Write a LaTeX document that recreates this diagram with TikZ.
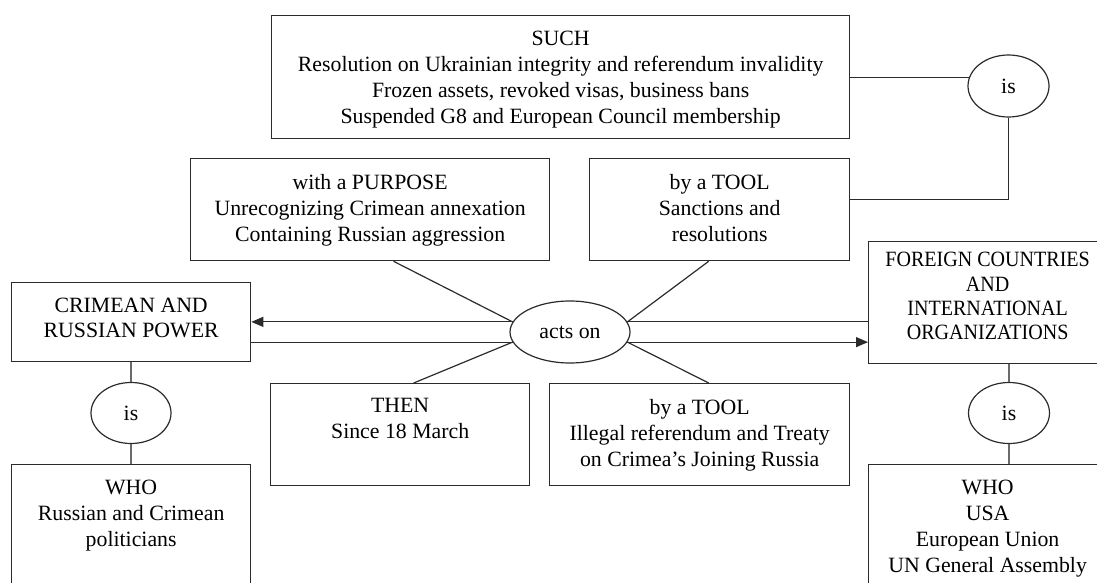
\documentclass[tikz,border=0pt]{standalone}
\usepackage{fontspec}
\setmainfont{Liberation Serif}
\newfontfamily\narrowserif[FakeStretch=0.92]{Liberation Serif}
\usepackage{tikz}
\usetikzlibrary{shapes.geometric, arrows.meta, positioning, calc}
\usepackage{xcolor}
\definecolor{frame}{HTML}{2B2B2B}
\definecolor{wire}{HTML}{6A6A6A}

\tikzset{
  box/.style={draw=frame, line width=0.65pt, rectangle, anchor=north west, inner sep=0pt},
  boxtext/.style={inner sep=0pt, align=center, font=\fontsize{10.9pt}{13pt}\selectfont},
  tighttext/.style={boxtext, font=\fontsize{10.9pt}{12.2pt}\selectfont},
  oval/.style={draw=frame, line width=0.6pt, ellipse, inner sep=0pt, font=\fontsize{10.9pt}{13pt}\selectfont},
  link/.style={draw=frame, line width=0.6pt},
  islink/.style={draw=wire, line width=0.9pt},
  arr/.style={link, -{Triangle[length=6pt, width=5pt]}}
}

\begin{document}
\begin{tikzpicture}[x=0.5pt, y=-0.5pt]
\useasboundingbox (0,0) rectangle (1097,583);

\node[box, minimum width=289pt, minimum height=61.5pt] (such) at (271,15) {};
\node[boxtext, below=7.9pt of such.north] (suchtxt) {SUCH\\Resolution on Ukrainian integrity and referendum invalidity\\Frozen assets, revoked visas, business bans\\Suspended G8 and European Council membership};

\node[box, minimum width=179.5pt, minimum height=51pt] (purpose) at (190,158) {};
\node[boxtext, below=8.2pt of purpose.north] (purposetxt) {with a PURPOSE\\Unrecognizing Crimean annexation\\Containing Russian aggression};

\node[box, minimum width=130pt, minimum height=51pt] (toolS) at (589,158) {};
\node[boxtext, below=8.2pt of toolS.north] (toolStxt) {by a TOOL\\Sanctions and\\resolutions};

\node[box, minimum width=119.5pt, minimum height=39.5pt] (crimean) at (11,282) {};
\node[tighttext, below=7.9pt of crimean.north] (crimeantxt) {CRIMEAN AND\\RUSSIAN POWER};

\node[box, minimum width=119pt, minimum height=61pt] (foreign) at (868,241) {};
\node[tighttext, font=\narrowserif\fontsize{10.9pt}{12.2pt}\selectfont, below=5.4pt of foreign.north] (foreigntxt) {FOREIGN COUNTRIES\\AND\\INTERNATIONAL\\ORGANIZATIONS};

\node[box, minimum width=129.5pt, minimum height=51pt] (then) at (270,383) {};
\node[boxtext, below=7.6pt of then.north] (thentxt) {THEN\\Since 18 March};

\node[box, minimum width=150pt, minimum height=51pt] (toolR) at (549,383) {};
\node[boxtext, below=7.9pt of toolR.north] (toolRtxt) {by a TOOL\\Illegal referendum and Treaty\\on Crimea's Joining Russia};

\node[box, minimum width=119.5pt, minimum height=70pt] (whol) at (11,464) {};
\node[boxtext, below=7.9pt of whol.north] (wholtxt) {WHO\\Russian and Crimean\\politicians};

\node[box, minimum width=119pt, minimum height=70pt] (whor) at (868,464) {};
\node[boxtext, below=7.9pt of whor.north] (whortxt) {WHO\\USA\\European Union\\UN General Assembly};

\node[oval, minimum width=40.5pt, minimum height=31pt] (istop) at (1008.5,86) {is};
\node[oval, minimum width=40pt, minimum height=30.5pt] (isl) at (131,413) {is};
\node[oval, minimum width=40.5pt, minimum height=30.5pt] (isr) at (1009,413) {is};
\node[oval, minimum width=60pt, minimum height=31pt] (acts) at (570,332) {acts on};

\draw[link] (such.east) -- (such.east -| istop.166);
\draw[link] (istop.south) |- ($(toolS.north east)!0.4!(toolS.south east)$);

\draw[arr] (acts.170) -- (acts.170 -| crimean.east);
\draw[link] (acts.190) -- (acts.190 -| crimean.east);
\draw[link] (acts.10) -- (acts.10 -| foreign.west);
\draw[arr] (acts.350) -- (acts.350 -| foreign.west);

\draw[link] ($(purpose.south west)!0.565!(purpose.south east)$) -- (acts.170);
\draw[link] ($(toolS.south west)!0.458!(toolS.south east)$) -- (acts.10);
\draw[link] ($(then.north west)!0.552!(then.north east)$) -- (acts.190);
\draw[link] ($(toolR.north west)!0.53!(toolR.north east)$) -- (acts.350);

\draw[islink] (isl.north) -- (isl.north |- crimean.south);
\draw[islink] (isl.south) -- (isl.south |- whol.north);
\draw[islink] (isr.north) -- (isr.north |- foreign.south);
\draw[islink] (isr.south) -- (isr.south |- whor.north);
\end{tikzpicture}
\end{document}
